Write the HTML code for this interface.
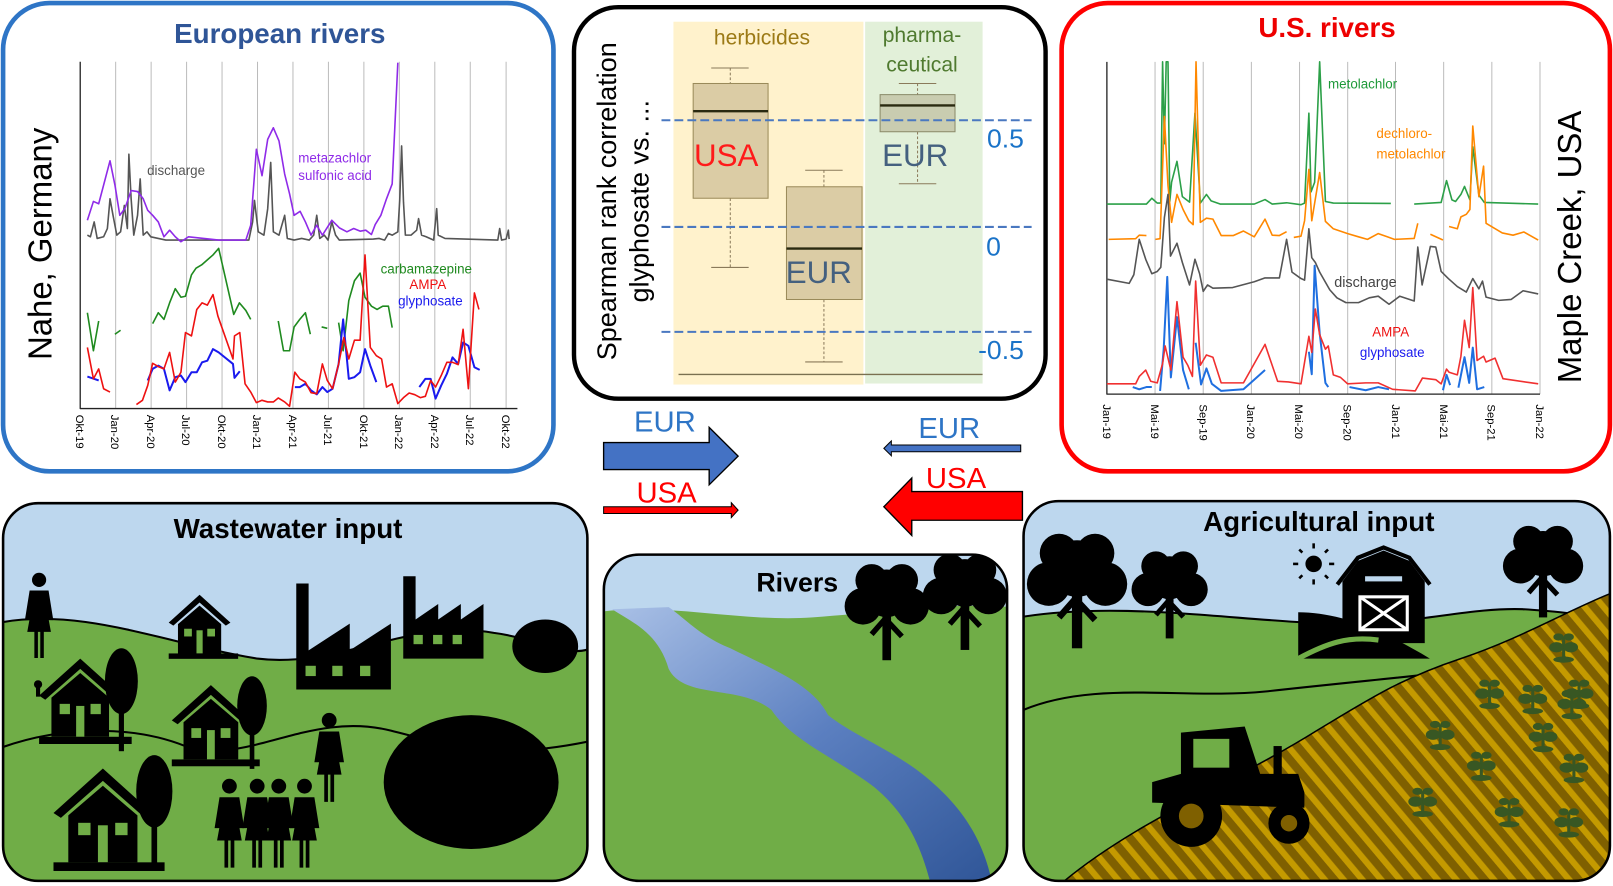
<!DOCTYPE html>
<html><head><meta charset="utf-8"><style>
html,body{margin:0;padding:0;background:#fff;}
svg{display:block;}
text{font-family:"Liberation Sans",Arial,sans-serif;}
</style></head><body>
<svg width="1613" height="886" viewBox="0 0 1568 861" preserveAspectRatio="none" xmlns="http://www.w3.org/2000/svg">
<defs>
<linearGradient id="rg" x1="0" y1="0" x2="1" y2="1"><stop offset="0" stop-color="#a9c0e6"/><stop offset="0.5" stop-color="#5b7fc0"/><stop offset="1" stop-color="#2f5597"/></linearGradient>
<pattern id="stripe" patternUnits="userSpaceOnUse" width="14" height="14" patternTransform="rotate(-40)"><rect width="14" height="14" fill="#7f6000"/><rect width="6" height="14" fill="#c49a00"/></pattern>
<clipPath id="cw"><rect x="3" y="489" width="568" height="367" rx="34"/></clipPath>
<clipPath id="cr"><rect x="587" y="539" width="392" height="317" rx="34"/></clipPath>
<clipPath id="ca"><rect x="995" y="487" width="570" height="369" rx="34"/></clipPath>
<g id="tree"><rect x="-4" y="-10" width="8" height="42" fill="#000"/><path d="M0,-8 L-14,8 M0,-5 L14,10" stroke="#000" stroke-width="5"/><circle cx="0" cy="-30" r="22"/><circle cx="-22" cy="-18" r="17"/><circle cx="22" cy="-18" r="17"/><circle cx="-14" cy="-42" r="15"/><circle cx="14" cy="-42" r="15"/></g>
<g id="house"><polygon points="-40,0 0,-36 40,0 34,4 0,-26 -34,4" fill="#000"/><polygon points="-28,2 0,-22 28,2 28,40 -28,40"/><rect x="-20" y="8" width="10" height="10" fill="#70ad47"/><rect x="10" y="8" width="10" height="10" fill="#70ad47"/><rect x="-4" y="10" width="8" height="30" fill="#70ad47"/><rect x="-40" y="40" width="90" height="7"/></g>
<g id="ptree"><ellipse cx="0" cy="-30" rx="16" ry="32"/><rect x="-2.5" y="-2" width="5" height="40"/></g>
<g id="person"><circle cx="0" cy="-30" r="6"/><path d="M-8,-21 L8,-21 L12,4 L8,4 L6,-8 L10,14 L4,14 L4,36 L1,36 L1,14 L-1,14 L-1,36 L-4,36 L-4,14 L-10,14 L-6,-8 L-8,4 L-12,4 Z"/></g>
<g id="plant" fill="#385723"><rect x="-1.5" y="-16" width="3" height="22"/><ellipse cx="-7" cy="-6" rx="7" ry="5"/><ellipse cx="7" cy="-6" rx="7" ry="5"/><ellipse cx="-5" cy="-16" rx="5" ry="3.5"/><ellipse cx="5" cy="-16" rx="5" ry="3.5"/><ellipse cx="0" cy="6" rx="10" ry="3"/></g>
</defs>

<!-- ===== European panel ===== -->
<rect x="3" y="3" width="535" height="455" rx="45" fill="#fff" stroke="#2e75c6" stroke-width="4.5"/>
<g transform="translate(7.2,3.8) scale(0.3667,0.321)" fill="none" stroke-linejoin="round">
<g stroke="#bbb" stroke-width="1" vector-effect="non-scaling-stroke">
<line x1="287" y1="175" x2="287" y2="1225" vector-effect="non-scaling-stroke"/><line x1="381" y1="175" x2="381" y2="1225" vector-effect="non-scaling-stroke"/><line x1="475" y1="175" x2="475" y2="1225" vector-effect="non-scaling-stroke"/><line x1="569" y1="175" x2="569" y2="1225" vector-effect="non-scaling-stroke"/><line x1="663" y1="175" x2="663" y2="1225" vector-effect="non-scaling-stroke"/><line x1="757" y1="175" x2="757" y2="1225" vector-effect="non-scaling-stroke"/><line x1="851" y1="175" x2="851" y2="1225" vector-effect="non-scaling-stroke"/><line x1="945" y1="175" x2="945" y2="1225" vector-effect="non-scaling-stroke"/><line x1="1039" y1="175" x2="1039" y2="1225" vector-effect="non-scaling-stroke"/><line x1="1133" y1="175" x2="1133" y2="1225" vector-effect="non-scaling-stroke"/><line x1="1227" y1="175" x2="1227" y2="1225" vector-effect="non-scaling-stroke"/><line x1="1322" y1="175" x2="1322" y2="1225" vector-effect="non-scaling-stroke"/>
</g>
<polyline vector-effect="non-scaling-stroke" stroke="#222" stroke-width="1.3" points="193,175 193,1225 1352,1225"/>
<polyline vector-effect="non-scaling-stroke" stroke="#555" stroke-width="1.6" points="212,700 220,705 230,660 238,710 255,705 265,680 272,590 280,640 290,700 300,690 310,610 318,680 322,455 328,590 335,700 345,640 352,530 360,700 370,690 380,705 400,710 420,715 640,715 650,660 655,595 665,690 680,700 690,620 698,480 705,690 720,700 735,640 742,710 760,715 780,710 800,715 812,700 820,640 828,710 840,700 850,715 860,660 870,700 880,715 970,712 985,710 1000,715 1010,695 1020,700 1035,690 1040,595 1045,430 1050,600 1055,700 1070,700 1085,685 1090,650 1098,700 1110,705 1130,715 1138,620 1142,700 1160,710 1300,715 1305,680 1310,715 1322,712 1328,685 1330,712"/>
<polyline vector-effect="non-scaling-stroke" stroke="#8f2be8" stroke-width="1.6" points="212,655 228,598 242,605 272,475 285,548 298,640 312,618 328,565 345,568 360,590 372,625 385,640 400,660 415,705 430,685 445,705 460,720 480,705 560,715 632,715 645,670 660,440 675,520 690,410 705,375 720,415 735,515 748,575 760,640 776,628 790,660 805,700 820,670 835,700 860,655 880,678 900,690 918,680 935,688 950,685 965,698 975,668 990,640 1005,590 1020,545 1035,178"/>
<g stroke="#1f8a1f" stroke-width="1.6" vector-effect="non-scaling-stroke">
<polyline vector-effect="non-scaling-stroke" points="212,935 228,1050 242,960"/><polyline vector-effect="non-scaling-stroke" points="285,1000 300,988"/>
<polyline vector-effect="non-scaling-stroke" points="385,968 400,935 415,955 430,905 445,862 460,888 472,885 488,820 500,800 515,790 530,775 545,760 560,740 600,940 615,905 632,928 645,955"/>
<polyline vector-effect="non-scaling-stroke" points="718,960 732,1050 748,1050 760,978 775,955 790,935 803,1000"/><polyline vector-effect="non-scaling-stroke" points="833,978 848,982"/>
<polyline vector-effect="non-scaling-stroke" points="878,965 890,1050 905,898 920,838 935,815 948,888 965,915 980,925 995,915 1010,915 1020,980"/></g>
<polyline vector-effect="non-scaling-stroke" stroke="#1a1aee" stroke-width="2" points="212,1128 242,1140"/>
<polyline vector-effect="non-scaling-stroke" stroke="#1a1aee" stroke-width="2" points="372,1140 385,1105 400,1095 415,1105 430,1170 445,1130 460,1125 472,1145 488,1115 502,1115 516,1085 530,1080 545,1045 560,1055 598,1090 602,1132 616,1112"/>
<polyline vector-effect="non-scaling-stroke" stroke="#1a1aee" stroke-width="2" points="762,1160 775,1160 790,1150 805,1170 820,1182 835,1160 848,1175 862,1165 878,1090 890,955 905,1135 920,1130 935,1115 948,1045 962,1095 978,1145"/>
<polyline vector-effect="non-scaling-stroke" stroke="#1a1aee" stroke-width="2" points="1092,1160 1108,1135 1122,1135 1135,1195 1150,1155 1165,1120 1180,1070 1195,1090 1208,1025 1222,1035 1238,1100 1252,1108"/>
<polyline vector-effect="non-scaling-stroke" stroke="#ee1111" stroke-width="1.6" points="212,1040 228,1135 242,1105 255,1165 272,1175"/>
<polyline vector-effect="non-scaling-stroke" stroke="#ee1111" stroke-width="1.6" points="342,1213 358,1200 372,1155 385,1088 400,1098 415,1105 430,1055 445,1145 460,1115 472,995 488,1005 502,925 516,905 530,912 545,880 558,945 598,1075 602,1005 616,995 630,1150 645,1175 660,1207 675,1200 690,1205 705,1205 718,1193 735,1205 748,1218 762,1115 775,1135 790,1145 805,1177 820,1180 835,1090 848,1140 862,1165 878,1090 892,1010 905,1075 920,1018 935,1018 948,760 962,1040 978,1065 992,1075 1005,1160 1020,1150 1035,1210 1050,1192 1065,1178 1080,1183 1095,1192 1108,1188 1122,1140 1135,1160 1150,1125 1165,1085 1180,1085 1195,1092 1208,985 1222,1165 1238,875 1250,925"/>
</g>
<text x="272" y="42" text-anchor="middle" font-size="27" font-weight="bold" fill="#2f5597">European rivers</text>
<text transform="translate(50,237) rotate(-90)" text-anchor="middle" font-size="32" fill="#000">Nahe, Germany</text>
<text x="143" y="170" font-size="13" fill="#555">discharge</text>
<text x="290" y="158" font-size="13" fill="#8f2be8">metazachlor</text>
<text x="290" y="175" font-size="13" fill="#8f2be8">sulfonic acid</text>
<text x="370" y="266" font-size="13" fill="#1f8a1f">carbamazepine</text>
<text x="398" y="281" font-size="13" fill="#ee1111">AMPA</text>
<text x="387" y="297" font-size="13" fill="#1a1aee">glyphosate</text>
<g font-size="11" fill="#000">
<text transform="translate(74,403) rotate(90)">Okt-19</text><text transform="translate(108,403) rotate(90)">Jan-20</text><text transform="translate(143,403) rotate(90)">Apr-20</text><text transform="translate(177,403) rotate(90)">Jul-20</text><text transform="translate(212,403) rotate(90)">Okt-20</text><text transform="translate(246,403) rotate(90)">Jan-21</text><text transform="translate(281,403) rotate(90)">Apr-21</text><text transform="translate(315,403) rotate(90)">Jul-21</text><text transform="translate(350,403) rotate(90)">Okt-21</text><text transform="translate(384,403) rotate(90)">Jan-22</text><text transform="translate(419,403) rotate(90)">Apr-22</text><text transform="translate(453,403) rotate(90)">Jul-22</text><text transform="translate(488,403) rotate(90)">Okt-22</text>
</g>

<!-- ===== US panel ===== -->
<rect x="1032" y="3" width="533" height="455" rx="45" fill="#fff" stroke="#ff0000" stroke-width="4.5"/>
<g transform="translate(1020.1,8.6) scale(0.3494,0.312)" fill="none" stroke-linejoin="round">
<g stroke="#bbb">
<line vector-effect="non-scaling-stroke" x1="294" y1="165" x2="294" y2="1200"/><line vector-effect="non-scaling-stroke" x1="428" y1="165" x2="428" y2="1200"/><line vector-effect="non-scaling-stroke" x1="562" y1="165" x2="562" y2="1200"/><line vector-effect="non-scaling-stroke" x1="696" y1="165" x2="696" y2="1200"/><line vector-effect="non-scaling-stroke" x1="830" y1="165" x2="830" y2="1200"/><line vector-effect="non-scaling-stroke" x1="963" y1="165" x2="963" y2="1200"/><line vector-effect="non-scaling-stroke" x1="1097" y1="165" x2="1097" y2="1200"/><line vector-effect="non-scaling-stroke" x1="1231" y1="165" x2="1231" y2="1200"/><line vector-effect="non-scaling-stroke" x1="1365" y1="165" x2="1365" y2="1200"/></g>
<polyline vector-effect="non-scaling-stroke" stroke="#222" stroke-width="1.3" points="160,165 160,1200 1365,1200"/>
<polyline vector-effect="non-scaling-stroke" stroke="#2ca048" stroke-width="1.6" points="160,608 270,608 285,590 300,605 310,605 315,165 320,420 325,165 330,165 335,600 340,540 355,475 370,585 390,602 405,325 420,605 437,578 450,598 475,608 570,608 600,594 620,608 660,604 700,610 710,605 722,325 728,570 738,540 752,165 768,600 790,605 950,606"/>
<polyline vector-effect="non-scaling-stroke" stroke="#2ca048" stroke-width="1.6" points="1015,608 1090,603 1105,535 1120,595 1130,600 1145,578 1155,553 1170,595 1178,430 1195,580 1210,603 1360,608"/>
<g stroke="#ff8800" stroke-width="1.6">
<polyline vector-effect="non-scaling-stroke" points="165,718 240,716 250,705 270,706"/>
<polyline vector-effect="non-scaling-stroke" points="295,718 308,716 320,335 330,550 340,665 355,578 372,625 388,660 400,672 408,165 420,665 437,652 455,655 478,706 512,706 540,692 570,710 600,655 620,705 640,706 660,694"/>
<polyline vector-effect="non-scaling-stroke" points="680,712 700,708 710,660 722,500 730,660 752,510 768,662 790,685 830,700 860,710 885,718 915,700 940,710 960,718 1015,715 1025,668"/>
<polyline vector-effect="non-scaling-stroke" points="1060,702 1095,720"/>
<polyline vector-effect="non-scaling-stroke" points="1112,678 1135,685 1145,648 1160,640 1170,625 1178,365 1195,585 1208,490 1215,668 1260,698 1290,705 1320,695 1360,720"/></g>
<polyline vector-effect="non-scaling-stroke" stroke="#555" stroke-width="1.6" points="160,842 222,855 235,828 250,718 268,780 285,825 300,818 310,805 320,650 330,578 337,770 355,730 370,790 390,860 405,780 418,825 428,880 440,860 455,870 510,868 570,850 600,838 640,838 660,718 675,820 700,840 710,845 722,685 730,775 740,790 752,820 780,875 800,900 825,915 860,915 890,900 915,895 945,920 975,895 1015,910 1025,742 1037,860 1060,740 1075,742 1090,818 1110,840 1135,865 1160,882 1178,840 1195,872 1205,848 1215,898 1250,908 1285,905 1318,878 1360,888"/>
<g stroke="#1f6fe0" stroke-width="2">
<polyline vector-effect="non-scaling-stroke" points="232,1178 250,1185 270,1178 285,1178"/>
<polyline vector-effect="non-scaling-stroke" points="308,1190 318,1060 328,835 338,1148 355,960 372,1125 388,1185"/>
<polyline vector-effect="non-scaling-stroke" points="407,1040 422,1170 437,1120 452,1168 478,1190 540,1185 600,1125"/>
<polyline vector-effect="non-scaling-stroke" points="722,1068 730,1138 738,800 752,1010 768,1165 776,1178"/>
<polyline vector-effect="non-scaling-stroke" points="835,1178 880,1188 915,1178 945,1185"/>
<polyline vector-effect="non-scaling-stroke" points="1095,1188 1105,1140 1115,1172"/>
<polyline vector-effect="non-scaling-stroke" points="1138,1180 1155,1085 1168,1165 1178,1055 1190,1185 1210,1178"/></g>
<polyline vector-effect="non-scaling-stroke" stroke="#f03030" stroke-width="1.6" points="160,1168 240,1168 250,1145 268,1125 282,1160 300,1165 315,1105 322,1050 338,1125 355,912 372,1085 385,1110 398,1145 407,848 420,1110 437,1078 455,1085 478,1165 540,1165 600,1045 635,1160 665,1162 700,1168 722,1020 730,1070 740,935 752,1015 768,1060 776,1050 790,1140 810,1148 830,1168 880,1165 915,1165 955,1185 1018,1190 1038,1150 1075,1155 1090,1168 1105,1122 1112,1132 1135,1140 1145,1082 1155,970 1168,1055 1178,868 1190,1095 1208,1082 1215,1100 1240,1088 1262,1152 1360,1168"/>
</g>
<text x="1290" y="36" text-anchor="middle" font-size="27" font-weight="bold" fill="#ee0000">U.S. rivers</text>
<text transform="translate(1537,240) rotate(-90)" text-anchor="middle" font-size="32" fill="#000">Maple Creek, USA</text>
<text x="1291" y="86" font-size="13" fill="#1f9a3a">metolachlor</text>
<text x="1338" y="134" font-size="13" fill="#ff8800">dechloro-</text>
<text x="1338" y="154" font-size="13" fill="#ff8800">metolachlor</text>
<text x="1297" y="279" font-size="14" fill="#444">discharge</text>
<text x="1334" y="327" font-size="13" fill="#ee1111">AMPA</text>
<text x="1322" y="347" font-size="13" fill="#1a1aee">glyphosate</text>
<g font-size="11" fill="#000">
<text transform="translate(1072,393) rotate(90)">Jan-19</text><text transform="translate(1119,393) rotate(90)">Mai-19</text><text transform="translate(1166,393) rotate(90)">Sep-19</text><text transform="translate(1212,393) rotate(90)">Jan-20</text><text transform="translate(1259,393) rotate(90)">Mai-20</text><text transform="translate(1306,393) rotate(90)">Sep-20</text><text transform="translate(1353,393) rotate(90)">Jan-21</text><text transform="translate(1400,393) rotate(90)">Mai-21</text><text transform="translate(1446,393) rotate(90)">Sep-21</text><text transform="translate(1493,393) rotate(90)">Jan-22</text>
</g>

<!-- ===== Center panel + arrows ===== -->
<g transform="translate(545.4,-1.2) scale(0.331,0.328)">
<rect x="38" y="25" width="1385" height="1160" rx="130" fill="#fff" stroke="#000" stroke-width="13"/>
<rect x="330" y="68" width="558" height="1075" fill="#fff2cc"/>
<rect x="893" y="68" width="345" height="1072" fill="#e2f0d9"/>
<line x1="345" y1="1113" x2="1238" y2="1113" stroke="#7a7050" stroke-width="4"/>
<g stroke="#8a7a5a" stroke-width="3">
<line x1="497" y1="205" x2="497" y2="251" stroke-dasharray="8 6"/><line x1="497" y1="591" x2="497" y2="796" stroke-dasharray="8 6"/><line x1="441" y1="205" x2="551" y2="205"/><line x1="441" y1="796" x2="551" y2="796"/>
<line x1="772" y1="508" x2="772" y2="557" stroke-dasharray="8 6"/><line x1="772" y1="891" x2="772" y2="1076" stroke-dasharray="8 6"/><line x1="717" y1="508" x2="827" y2="508"/><line x1="717" y1="1076" x2="827" y2="1076"/>
<line x1="1047" y1="251" x2="1047" y2="284" stroke-dasharray="8 6"/><line x1="1047" y1="394" x2="1047" y2="548" stroke-dasharray="8 6"/><line x1="992" y1="251" x2="1102" y2="251"/><line x1="992" y1="548" x2="1102" y2="548"/>
</g>
<rect x="388" y="251" width="220" height="340" fill="#dbcca5" stroke="#9a8a5a" stroke-width="3"/><line x1="388" y1="333" x2="608" y2="333" stroke="#2a2a10" stroke-width="7"/>
<rect x="662" y="557" width="222" height="334" fill="#dbcca5" stroke="#9a8a5a" stroke-width="3"/><line x1="662" y1="740" x2="884" y2="740" stroke="#2a2a10" stroke-width="7"/>
<rect x="937" y="284" width="220" height="110" fill="#c9ccb0" stroke="#8a8a6a" stroke-width="3"/><line x1="937" y1="316" x2="1157" y2="316" stroke="#2a2a10" stroke-width="7"/>
<g stroke="#4a78c0" stroke-width="6" stroke-dasharray="26 12"><line x1="295" y1="360" x2="1382" y2="360"/><line x1="295" y1="676" x2="1382" y2="676"/><line x1="295" y1="987" x2="1382" y2="987"/></g>
<text x="590" y="135" text-anchor="middle" font-size="62" fill="#9c7a16">herbicides</text>
<text x="1060" y="128" text-anchor="middle" font-size="62" fill="#4f7a2f">pharma-</text>
<text x="1060" y="215" text-anchor="middle" font-size="62" fill="#4f7a2f">ceutical</text>
<text x="485" y="495" text-anchor="middle" font-size="92" fill="#ff1a1a">USA</text>
<text x="757" y="842" text-anchor="middle" font-size="92" fill="#44607f">EUR</text>
<text x="1040" y="495" text-anchor="middle" font-size="92" fill="#44607f">EUR</text>
<text x="1305" y="440" text-anchor="middle" font-size="78" fill="#1a73c8">0.5</text>
<text x="1270" y="760" text-anchor="middle" font-size="78" fill="#1a73c8">0</text>
<text x="1292" y="1068" text-anchor="middle" font-size="78" fill="#1a73c8">-0.5</text>
<text transform="translate(162,600) rotate(-90)" text-anchor="middle" font-size="80" fill="#000">Spearman rank correlation</text>
<text transform="translate(257,600) rotate(-90)" text-anchor="middle" font-size="80" fill="#000">glyphosate vs. ...</text>
<polygon points="125,1315 435,1315 435,1270 520,1355 435,1440 435,1395 125,1395" fill="#4472c4" stroke="#000" stroke-width="4"/>
<polygon points="125,1505 500,1505 500,1493 520,1515 500,1537 500,1525 125,1525" fill="#ff0000" stroke="#000" stroke-width="3"/>
<polygon points="1350,1322 970,1322 970,1310 948,1332 970,1354 970,1342 1350,1342" fill="#4472c4" stroke="#000" stroke-width="3"/>
<polygon points="1355,1460 1030,1460 1030,1420 948,1505 1030,1590 1030,1545 1355,1545" fill="#ff0000" stroke="#000" stroke-width="4"/>
<text x="305" y="1282" text-anchor="middle" font-size="86" fill="#2e75c6">EUR</text>
<text x="310" y="1492" text-anchor="middle" font-size="86" fill="#ff0000">USA</text>
<text x="1140" y="1302" text-anchor="middle" font-size="86" fill="#2e75c6">EUR</text>
<text x="1160" y="1450" text-anchor="middle" font-size="86" fill="#ff0000">USA</text>
</g>

<!-- ===== Wastewater panel ===== -->
<g clip-path="url(#cw)">
<rect x="0" y="480" width="580" height="380" fill="#bdd7ee"/>
<path d="M0,605 C80,590 160,625 250,640 C330,650 400,600 480,615 C520,620 550,640 575,630 L575,860 L0,860 Z" fill="#70ad47"/>
<path d="M0,605 C80,590 160,625 250,640 C330,650 400,600 480,615 C520,620 550,640 575,630" fill="none" stroke="#000" stroke-width="2"/>
<path d="M0,727 C60,705 130,705 180,725 C240,745 300,690 380,710 C440,725 480,740 575,720" fill="none" stroke="#000" stroke-width="2"/>
<g transform="translate(38,598) scale(1.15)"><use href="#person"/></g>
<g transform="translate(194,605) scale(0.75)"><use href="#house"/></g>
<path d="M288,670 L288,567 L300,567 L300,632 L340,606 L340,632 L380,606 L380,670 Z" fill="#000"/>
<g fill="#70ad47"><rect x="297" y="647" width="10" height="10"/><rect x="323" y="647" width="10" height="10"/><rect x="350" y="647" width="10" height="10"/></g>
<path d="M392,640 L392,560 L404,560 L404,602 L426,587 L426,602 L448,587 L448,602 L470,587 L470,640 Z" fill="#000"/>
<g fill="#70ad47"><rect x="402" y="617" width="9" height="9"/><rect x="421" y="617" width="9" height="9"/><rect x="440" y="617" width="9" height="9"/></g>
<ellipse cx="530" cy="628" rx="32" ry="26"/>
<g transform="translate(78,676) scale(1.0)"><use href="#house"/></g>
<g transform="translate(118,692)"><use href="#ptree"/></g>
<circle cx="37" cy="665" r="4" fill="#000"/><rect x="35" y="665" width="4" height="12"/>
<g transform="translate(205,700) scale(0.95)"><use href="#house"/></g>
<g transform="translate(245,713) scale(0.9)"><use href="#ptree"/></g>
<g transform="translate(100,790) scale(1.2)"><use href="#house"/></g>
<g transform="translate(150,802) scale(1.1)"><use href="#ptree"/></g>
<ellipse cx="458" cy="760" rx="85" ry="65"/>
<g transform="translate(320,736) scale(1.2)"><use href="#person"/></g>
<g transform="translate(223,800) scale(1.2)"><use href="#person"/></g>
<g transform="translate(250,800) scale(1.2)"><use href="#person"/></g>
<g transform="translate(271,800) scale(1.2)"><use href="#person"/></g>
<g transform="translate(296,800) scale(1.2)"><use href="#person"/></g>
</g>
<rect x="3" y="489" width="568" height="367" rx="34" fill="none" stroke="#000" stroke-width="2.5"/>
<text x="280" y="523" text-anchor="middle" font-size="27" font-weight="bold">Wastewater input</text>

<!-- ===== Rivers panel ===== -->
<g clip-path="url(#cr)">
<rect x="580" y="530" width="410" height="340" fill="#bdd7ee"/>
<path d="M580,595 C650,585 720,605 790,600 C860,595 920,585 985,590 L985,860 L580,860 Z" fill="#70ad47"/>
<path d="M595,592 C615,605 640,615 650,650 C665,680 720,665 750,690 C770,720 810,735 850,765 C880,790 895,820 905,860 L965,860 C955,810 930,780 900,755 C870,730 830,715 805,695 C790,665 750,650 710,630 C680,618 665,600 650,590 Z" fill="url(#rg)"/>
<g transform="translate(862,608) scale(1.05)"><use href="#tree"/></g>
<g transform="translate(938,598) scale(1.05)"><use href="#tree"/></g>
</g>
<rect x="587" y="539" width="392" height="317" rx="34" fill="none" stroke="#000" stroke-width="2.5"/>
<text x="775" y="575" text-anchor="middle" font-size="26" font-weight="bold">Rivers</text>

<!-- ===== Agricultural panel ===== -->
<g clip-path="url(#ca)">
<rect x="990" y="480" width="580" height="380" fill="#bdd7ee"/>
<path d="M990,600 C1080,585 1180,600 1270,605 C1360,612 1420,590 1480,592 C1520,594 1545,600 1570,598 L1570,860 L990,860 Z" fill="#70ad47"/>
<path d="M990,600 C1080,585 1180,600 1270,605 C1360,612 1420,590 1480,592 C1520,594 1545,600 1570,598" fill="none" stroke="#000" stroke-width="2"/>
<path d="M990,692 C1060,660 1150,680 1230,672 C1320,662 1400,655 1450,648 C1500,640 1540,665 1570,660" fill="none" stroke="#000" stroke-width="2"/>
<path d="M1030,860 C1100,800 1200,760 1280,710 C1330,680 1360,660 1420,640 C1480,620 1530,590 1570,575 L1570,860 Z" fill="url(#stripe)"/>
<path d="M1030,860 C1100,800 1200,760 1280,710 C1330,680 1360,660 1420,640 C1480,620 1530,590 1570,575" fill="none" stroke="#000" stroke-width="1.5"/>
<g transform="translate(1047,590) scale(1.25)"><use href="#tree"/></g>
<g transform="translate(1137,590) scale(0.95)"><use href="#tree"/></g>
<g transform="translate(1500,568) scale(1.0)"><use href="#tree"/></g>
<circle cx="1277" cy="548" r="8"/>
<g stroke="#000" stroke-width="2.5"><line x1="1277" y1="533" x2="1277" y2="528"/><line x1="1277" y1="563" x2="1277" y2="568"/><line x1="1262" y1="548" x2="1257" y2="548"/><line x1="1292" y1="548" x2="1297" y2="548"/><line x1="1266" y1="537" x2="1263" y2="534"/><line x1="1288" y1="537" x2="1291" y2="534"/><line x1="1266" y1="559" x2="1263" y2="562"/><line x1="1288" y1="559" x2="1291" y2="562"/></g>
<path d="M1262,640 L1262,595 C1300,595 1340,610 1390,640 Z" fill="#000"/>
<path d="M1305,625 L1305,565 L1320,545 L1345,535 L1370,545 L1385,565 L1385,625 Z" fill="#000"/>
<path d="M1300,568 L1320,542 L1345,532 L1370,542 L1390,568" fill="none" stroke="#000" stroke-width="4"/>
<rect x="1327" y="560" width="36" height="5" fill="#bdd7ee"/>
<rect x="1322" y="580" width="46" height="32" fill="none" stroke="#fff" stroke-width="3"/>
<path d="M1322,580 L1368,612 M1368,580 L1322,612" stroke="#fff" stroke-width="3"/>
<path d="M1262,640 C1290,625 1310,618 1340,622" fill="none" stroke="#70ad47" stroke-width="5"/>
<path d="M1120,780 L1120,760 L1148,752 L1148,712 L1210,706 L1225,752 L1262,752 L1268,770 L1268,785 Z" fill="#000"/>
<rect x="1160" y="718" width="35" height="28" fill="#70ad47"/>
<rect x="1238" y="725" width="8" height="28" fill="#000"/>
<circle cx="1158" cy="793" r="30" fill="#000"/><circle cx="1158" cy="793" r="12" fill="#7f6000"/>
<circle cx="1253" cy="800" r="20" fill="#000"/><circle cx="1253" cy="800" r="8" fill="#7f6000"/>
<use href="#plant" transform="translate(1520,635)"/><use href="#plant" transform="translate(1448,680)"/><use href="#plant" transform="translate(1490,685)"/><use href="#plant" transform="translate(1528,690)"/>
<use href="#plant" transform="translate(1400,720)"/><use href="#plant" transform="translate(1500,722)"/><use href="#plant" transform="translate(1530,752)"/>
<use href="#plant" transform="translate(1440,750)"/><use href="#plant" transform="translate(1383,785)"/><use href="#plant" transform="translate(1467,795)"/><use href="#plant" transform="translate(1525,805)"/><use href="#plant" transform="translate(1535,680)"/>
</g>
<rect x="995" y="487" width="570" height="369" rx="34" fill="none" stroke="#000" stroke-width="2.5"/>
<text x="1282" y="516" text-anchor="middle" font-size="27" font-weight="bold">Agricultural input</text>
</svg>
</body></html>
